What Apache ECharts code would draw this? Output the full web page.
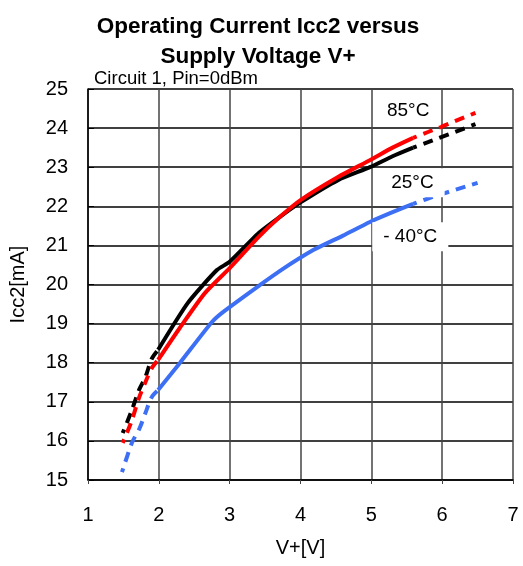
<!DOCTYPE html>
<html>
<head>
<meta charset="utf-8">
<script src="https://cdn.jsdelivr.net/npm/echarts@6/dist/echarts.min.js"></script>
<style>
  html, body { margin: 0; padding: 0; background: #fff; }
  #chart { width: 523px; height: 566px; }
</style>
</head>
<body>
<div id="chart"></div>
<script>
  // measured curves, [V+, Icc2]
  var redSolid = [[1.99, 18.07], [2.3, 18.9], [2.65, 19.78], [3.0, 20.42], [3.4, 21.2], [3.71, 21.73], [4.0, 22.16], [4.53, 22.75], [4.98, 23.18], [5.3, 23.5], [5.59, 23.75]]
  var blackSolid = [[1.99, 18.33], [2.41, 19.53], [2.82, 20.37], [3.0, 20.58], [3.4, 21.3], [3.71, 21.73], [4.0, 22.1], [4.53, 22.67], [4.98, 23.0], [5.3, 23.28], [5.59, 23.5]]
  var blueSolid = [[1.99, 17.3], [2.3, 18.0], [2.75, 19.04], [2.91, 19.3], [3.43, 19.99], [3.71, 20.35], [4.18, 20.88], [4.6, 21.25], [4.98, 21.6], [5.3, 21.85], [5.59, 22.06]]
  var redLow = [[1.49, 15.95], [1.61, 16.48], [1.72, 17.1], [1.81, 17.5], [1.9, 17.86], [1.99, 18.07]]
  var blackLow = [[1.49, 16.2], [1.62, 16.79], [1.72, 17.3], [1.81, 17.63], [1.9, 18.1], [1.99, 18.33]]
  var blueLow = [[1.48, 15.2], [1.62, 15.95], [1.73, 16.33], [1.81, 16.71], [1.9, 17.12], [1.99, 17.3]]
  var redHigh = [[5.59, 23.75], [5.8, 23.9], [6.47, 24.39]]
  var blackHigh = [[5.59, 23.5], [5.8, 23.64], [6.47, 24.1]]
  var blueHigh = [[5.59, 22.06], [5.8, 22.2], [6.5, 22.6]]
  var tempLabels = [
    { name: '85°C', coord: [5.52, 24.44] },
    { name: '25°C', coord: [5.58, 22.6] },
    { name: '- 40°C', coord: [5.55, 21.22] }
  ]

  var RED = '#ff0000'
  var BLACK = '#000000'
  var BLUE = '#3d6ff5'
  var FONT = 'Liberation Sans'

  function solid(data, color) {
    return { type: 'line', data: data, symbol: 'none', smooth: 0.2, z: 3,
      lineStyle: { color: color, width: 4 } }
  }
  function dashed(data, color) {
    return { type: 'line', data: data, symbol: 'none', smooth: 0.3, z: 3,
      lineStyle: { color: color, width: 4, type: [10, 7], dashOffset: 6 } }
  }

  var myChart = echarts.init(document.getElementById('chart'))
  var series = [
    dashed(blackLow, BLACK), dashed(redLow, RED), dashed(blueLow, BLUE),
    solid(blackSolid, BLACK), solid(redSolid, RED), solid(blueSolid, BLUE),
    dashed(blackHigh, BLACK), dashed(redHigh, RED), dashed(blueHigh, BLUE)
  ]
  series.push({
    type: 'scatter', data: [], z: 5,
    markPoint: {
      symbol: 'rect', symbolSize: 1, itemStyle: { color: 'transparent' },
      label: {
        show: true, position: 'inside', formatter: '{b}', color: '#000',
        fontFamily: FONT, fontSize: 19,
        backgroundColor: '#fff', padding: [5, 11]
      },
      data: tempLabels
    }
  })

  myChart.setOption({
    animation: false,
    title: [
      { text: 'Operating Current Icc2 versus\nSupply Voltage V+', left: 253, top: 7, textAlign: 'center',
        textStyle: { fontFamily: FONT, fontSize: 22.5, fontWeight: 'bold', color: '#000', lineHeight: 30 } },
      { text: 'Circuit 1, Pin=0dBm', left: 89, top: 64,
        textStyle: { fontFamily: FONT, fontSize: 18.5, fontWeight: 'normal', color: '#000' } }
    ],
    grid: { left: 88, right: 10, top: 89, bottom: 86 },
    xAxis: {
      type: 'value', min: 1, max: 7, interval: 1,
      name: 'V+[V]', nameLocation: 'middle', nameGap: 58,
      nameTextStyle: { fontFamily: FONT, fontSize: 20, color: '#000' },
      axisLine: { show: true, lineStyle: { color: '#000', width: 1.5 } },
      axisTick: { show: true, length: 4, lineStyle: { color: '#444' } },
      axisLabel: { fontFamily: FONT, fontSize: 20, color: '#000', margin: 25 },
      splitLine: { show: true, lineStyle: { color: '#444', width: 1.5 } }
    },
    yAxis: {
      type: 'value', min: 15, max: 25, interval: 1,
      name: 'Icc2[mA]', nameLocation: 'middle', nameGap: 60, nameRotate: 90,
      nameTextStyle: { fontFamily: FONT, fontSize: 20, color: '#000' },
      axisLine: { show: true, lineStyle: { color: '#000', width: 1.5 } },
      axisTick: { show: true, inside: true, length: 6, lineStyle: { color: '#000' } },
      axisLabel: { fontFamily: FONT, fontSize: 20, color: '#000', margin: 20 },
      splitLine: { show: true, lineStyle: { color: '#000', width: 1.5 } }
    },
    series: series
  })
</script>
</body>
</html>
